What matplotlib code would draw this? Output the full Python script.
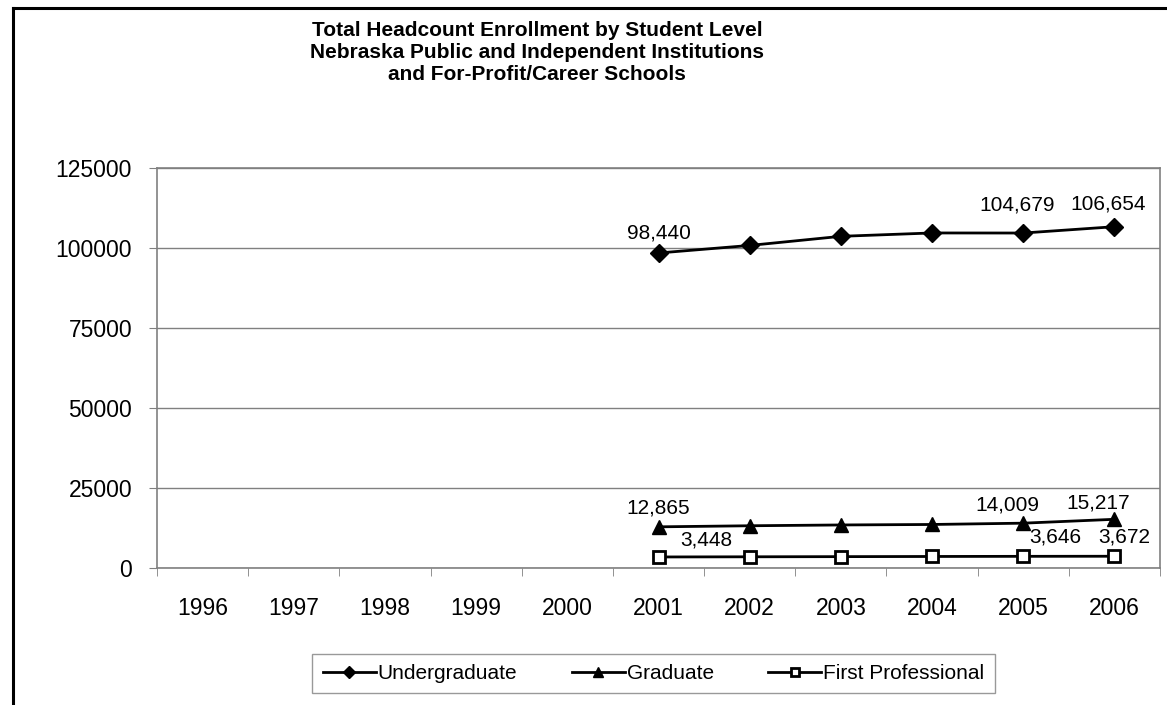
import matplotlib
matplotlib.use("Agg")
import matplotlib.pyplot as plt
from matplotlib.lines import Line2D
import numpy as np

plt.rcParams['font.family'] = ['Liberation Sans', 'DejaVu Sans']

years = ["1996", "1997", "1998", "1999", "2000", "2001", "2002", "2003", "2004", "2005", "2006"]
data_years = ["2001", "2002", "2003", "2004", "2005", "2006"]
undergrad = [98440, 100800, 103650, 104700, 104679, 106654]
graduate = [12865, 13200, 13450, 13600, 14009, 15217]
first_prof = [3448, 3500, 3550, 3600, 3646, 3672]
yticks = [0, 25000, 50000, 75000, 100000, 125000]

FS = 16.5
LFS = 15
W, H = 1167, 705
fig = plt.figure(figsize=(W / 100, H / 100), dpi=100)
ax = fig.add_axes([157 / W, 1 - 568 / H, (1160 - 157) / W, (568 - 168) / H])

xpos = [years.index(y) for y in data_years]
ax.plot(xpos, undergrad, color='black', lw=2, marker='D', ms=9, mfc='black', mec='black', label='Undergraduate', clip_on=False)
ax.plot(xpos, graduate, color='black', lw=2, marker='^', ms=10, mfc='black', mec='black', label='Graduate', clip_on=False)
ax.plot(xpos, first_prof, color='black', lw=2, marker='s', ms=8.5, mfc='white', mec='black', mew=2, label='First Professional', clip_on=False)

ax.set_xlim(-0.5, len(years) - 0.5)
ax.set_ylim(0, 125000)
ax.set_yticks(yticks)
ax.set_yticklabels([str(v) for v in yticks], fontsize=FS)
ax.set_xticks(range(len(years)))
ax.set_xticklabels(years, fontsize=FS)
ax.tick_params(axis='x', length=0, pad=21)
ax.set_xticks(np.arange(-0.5, len(years), 1), minor=True)
ax.tick_params(axis='x', which='minor', length=6, color='#808080', direction='out')
ax.tick_params(axis='y', length=6, color='#808080', direction='out', pad=12)
ax.grid(axis='y', color='#808080', lw=1)
ax.set_axisbelow(True)
for s in ['top', 'right', 'left', 'bottom']:
    ax.spines[s].set_color('#808080')
    ax.spines[s].set_linewidth(1.2)

def lab(series, idx, dx, dy):
    ax.annotate(f"{series[idx]:,}", (xpos[idx], series[idx]), xytext=(dx, dy),
                textcoords='offset pixels', ha='center', va='center', fontsize=LFS)

lab(undergrad, 0, 0, 20)
lab(undergrad, 4, -6, 28)
lab(undergrad, 5, -6, 23)
lab(graduate, 0, 0, 19)
lab(graduate, 4, -16, 18)
lab(graduate, 5, -16, 16)
lab(first_prof, 0, 48, 17)
lab(first_prof, 4, 32, 19)
lab(first_prof, 5, 10, 19)

fig.text(537 / W, 1 - 52 / H,
         "Total Headcount Enrollment by Student Level\nNebraska Public and Independent Institutions\nand For-Profit/Career Schools",
         ha='center', va='center', fontsize=15, fontweight='bold', linespacing=1.2)

leg = fig.legend(loc='center', bbox_to_anchor=(653.5 / W, 1 - 673.5 / H), ncol=3, frameon=True,
                 fancybox=False, edgecolor='#808080', fontsize=LFS, handlelength=2.55,
                 columnspacing=2.6, handletextpad=0.1, borderpad=0.5, markerscale=0.7)
leg.get_frame().set_linewidth(1)

fig.add_artist(Line2D([13 / W, 13 / W], [0, 1 - 8 / H], color='black', lw=2.2, transform=fig.transFigure))
fig.add_artist(Line2D([13 / W, 1], [1 - 8 / H, 1 - 8 / H], color='black', lw=2.2, transform=fig.transFigure))

fig.savefig("out.png", dpi=100)
